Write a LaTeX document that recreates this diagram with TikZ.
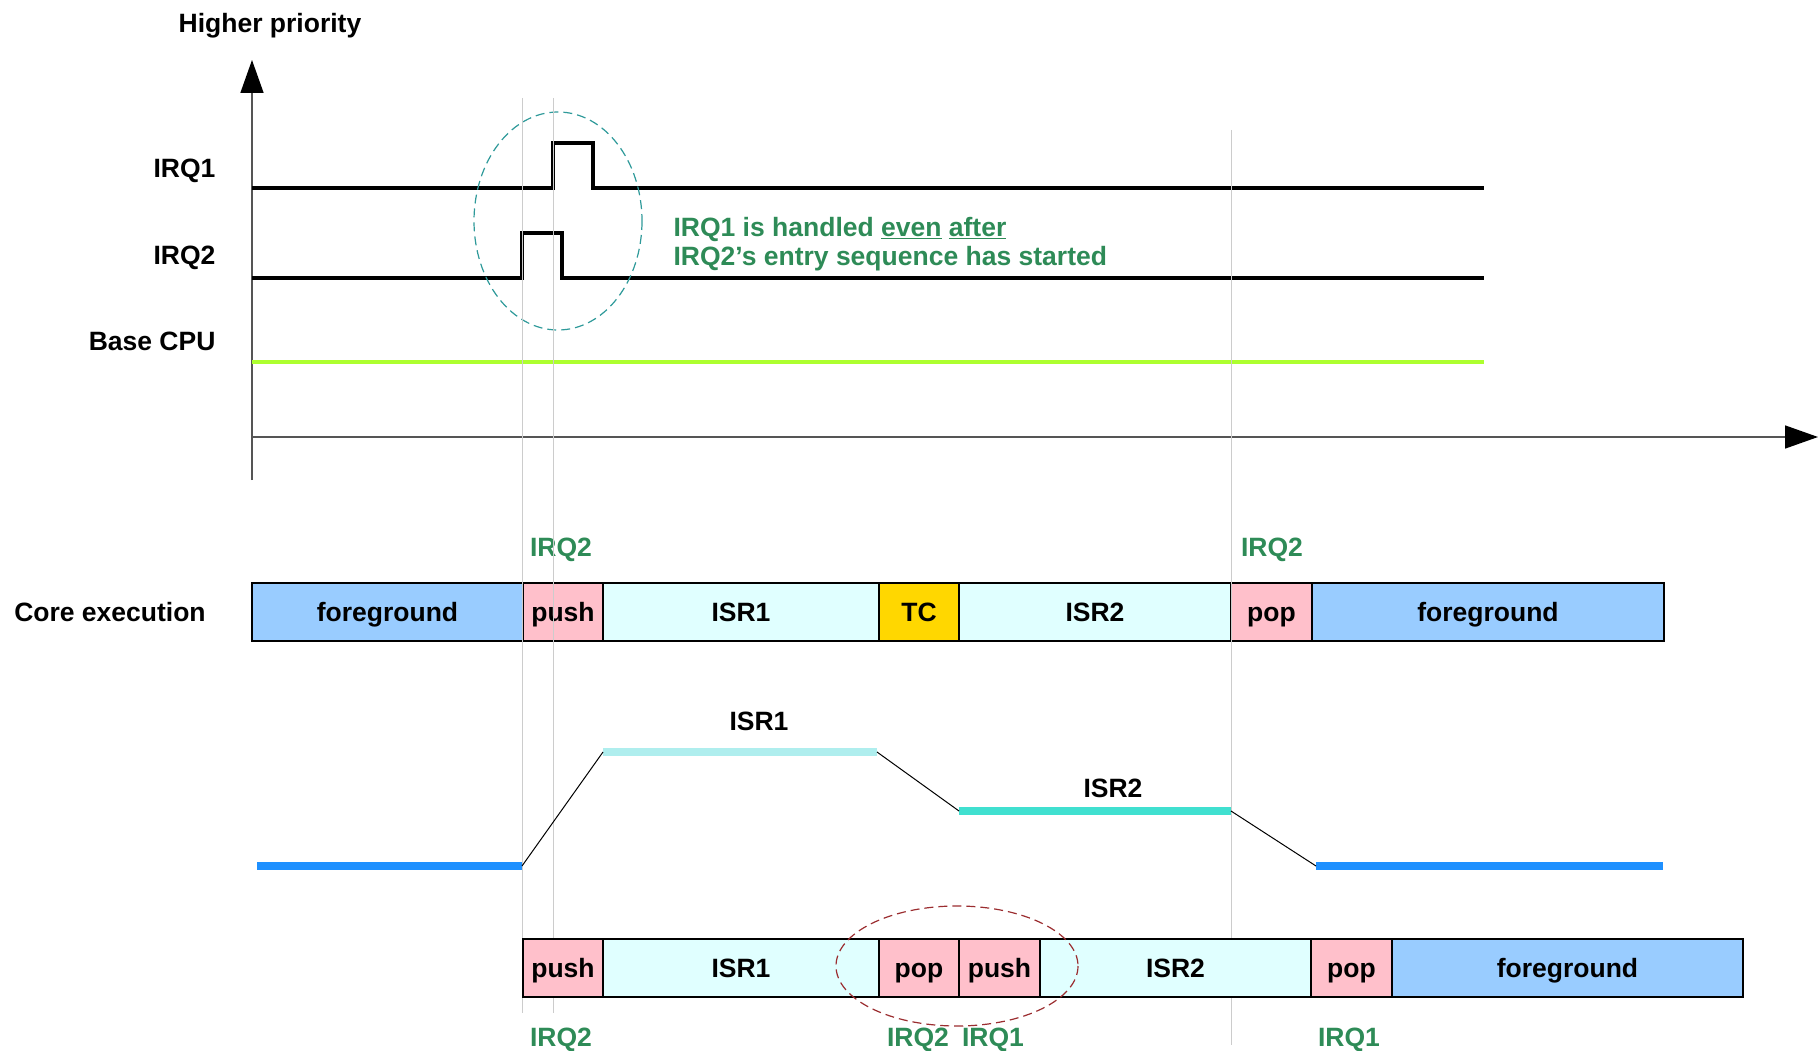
\documentclass[tikz,border=0pt]{standalone}
\usepackage{fontspec}
\setmainfont{Liberation Sans}
\usepackage{xcolor}
\usetikzlibrary{arrows.meta}
\usetikzlibrary{positioning}
\definecolor{fgblue}{HTML}{99CCFF}
\definecolor{pushpink}{HTML}{FFC0CB}
\definecolor{isrcyan}{HTML}{E0FFFF}
\definecolor{tcgold}{HTML}{FFD700}
\definecolor{lvlone}{HTML}{AFEEEE}
\definecolor{lvltwo}{HTML}{40E0D0}
\definecolor{lvlfg}{HTML}{1E90FF}
\definecolor{baselime}{HTML}{ADFF2F}
\definecolor{notegreen}{HTML}{2E8B57}
\definecolor{ringteal}{HTML}{2F9A9A}
\definecolor{ringred}{HTML}{9B2D30}
\definecolor{guidegray}{HTML}{CCCCCC}
\definecolor{axisgray}{HTML}{555555}

\begin{document}
\begin{tikzpicture}[x=1pt,y=-1pt,
    font=\fontsize{26.5}{29}\selectfont\bfseries,
    every node/.append style={text height=19pt,text depth=0pt},
    seg/.style={draw=black,line width=1.2pt,minimum height=58pt,inner sep=0pt,outer sep=0pt},
    tag/.style={text=notegreen},
    lvl/.style={line width=7.5pt},
    sig/.style={line width=4pt,line join=miter}]
    \useasboundingbox (0,0) rectangle (1818,1051);
    % axes
    \coordinate (ybot) at (252,480);
    \coordinate (ytop) at (252,60);
    \coordinate (xbeg) at (252,437);
    \coordinate (xend) at (1818,437);
    \draw[axisgray,line width=1.5pt,-{Triangle[length=33pt,width=23pt,color=black]}] (ybot) -- (ytop);
    \draw[axisgray,line width=1.5pt,-{Triangle[length=33pt,width=23pt,color=black]}] (xbeg) -- (xend);
    \node (hiprio) at (270,23) {Higher priority};
    % signal levels
    \node[anchor=east] (irq1lbl) at (219,168) {IRQ1};
    \node[anchor=east] (irq2lbl) at (219,255) {IRQ2};
    \node[anchor=east] (baselbl) at (219,341) {Base CPU};
    \draw[sig] (252,188) -- (553,188) -- (553,143) -- (593,143) -- (593,188) -- (1484,188);
    \draw[sig] (252,278) -- (522,278) -- (522,233) -- (562,233) -- (562,278) -- (1484,278);
    \draw[baselime,line width=4pt] (252,362) -- (1484,362);
    \draw[ringteal,line width=1.2pt,dash pattern=on 9pt off 5pt] (558,221) ellipse (84 and 109);
    \node[tag,anchor=west] (note1) at (670,227) {IRQ1 is handled \underline{even} \underline{after}};
    \node[tag,anchor=west] (note2) at (670,256) {IRQ2’s entry sequence has started};
    % core execution, tail-chaining
    \node (core) at (110,612) {Core execution};
    \coordinate (top0) at (252,612);
    \foreach \nm/\len/\col/\txt [remember=\nm as \prev (initially top0)] in
      {fgA/271/fgblue/foreground, pushA/80/pushpink/push, isrA/276/isrcyan/ISR1,
       tc/80/tcgold/TC, isrB/272/isrcyan/ISR2, popA/81/pushpink/pop, fgB/352/fgblue/foreground}
      \node[seg,fill=\col,minimum width=\len pt,right=0pt of \prev] (\nm) {\txt};
    \node[tag] (irq2a) at (561,547) {IRQ2};
    \node[tag] (irq2b) at (1272,547) {IRQ2};
    % guide lines
    \foreach \gx/\gt/\gb in {522/98/1013, 553/98/1013, 1231/130/1045}
      \draw[guidegray,line width=1pt] (\gx,\gt) -- (\gx,\gb);
    % priority levels
    \coordinate (fgLa) at (257,866);
    \coordinate (fgLb) at (522,866);
    \coordinate (isr1a) at (603,752);
    \coordinate (isr1b) at (877,752);
    \coordinate (isr2a) at (959,811);
    \coordinate (isr2b) at (1231,811);
    \coordinate (fgRa) at (1316,866);
    \coordinate (fgRb) at (1663,866);
    \draw[lvl,lvlfg] (fgLa) -- (fgLb);
    \draw[lvl,lvlone] (isr1a) -- (isr1b);
    \draw[lvl,lvltwo] (isr2a) -- (isr2b);
    \draw[lvl,lvlfg] (fgRa) -- (fgRb);
    \draw[line width=1pt] (fgLb) -- (isr1a);
    \draw[line width=1pt] (isr1b) -- (isr2a);
    \draw[line width=1pt] (isr2b) -- (fgRa);
    \node (isr1lbl) at (759,721) {ISR1};
    \node (isr2lbl) at (1113,788) {ISR2};
    % without tail-chaining
    \coordinate (bot0) at (523,968);
    \foreach \nm/\len/\col/\txt [remember=\nm as \prev (initially bot0)] in
      {pushB/80/pushpink/push, isrC/276/isrcyan/ISR1, popB/80/pushpink/pop,
       pushC/81/pushpink/push, isrD/271/isrcyan/ISR2, popC/81/pushpink/pop, fgC/351/fgblue/foreground}
      \node[seg,fill=\col,minimum width=\len pt,right=0pt of \prev] (\nm) {\txt};
    \draw[ringred,line width=1.2pt,dash pattern=on 9pt off 5pt] (957,966) ellipse (121 and 60);
    \node[tag] (irq2c) at (561,1037) {IRQ2};
    \node[tag] (irq2d) at (918,1037) {IRQ2};
    \node[tag] (irq1c) at (993,1037) {IRQ1};
    \node[tag] (irq1d) at (1349,1037) {IRQ1};
\end{tikzpicture}
\end{document}
